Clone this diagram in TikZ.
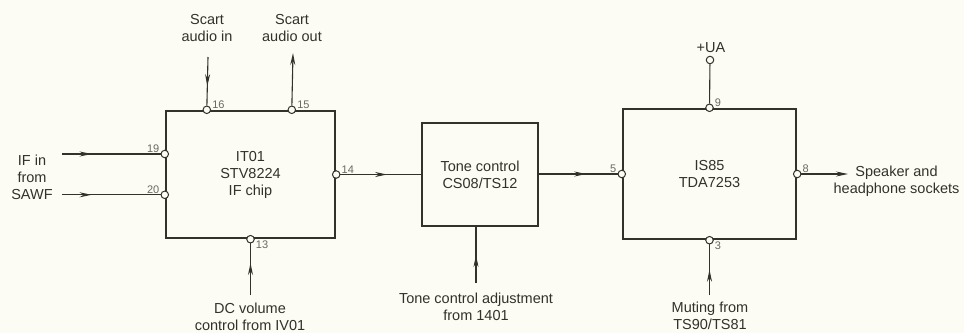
\documentclass[tikz,border=0pt]{standalone}
\usepackage{fontspec}
\setmainfont{Liberation Sans}
\usetikzlibrary{arrows.meta,decorations.markings}

\definecolor{paper}{RGB}{252,251,244}
\definecolor{ink}{RGB}{50,50,42}
\definecolor{pinink}{RGB}{105,105,95}

\begin{document}
\begin{tikzpicture}[x=1pt, y=-1pt, >={Stealth[length=12pt,width=5pt]}, font=\fontsize{14.5}{17}\selectfont]

% Styles
\tikzstyle{chip} = [draw=ink, line width=2.4pt, rectangle, inner sep=0pt, align=center, text=ink]
\tikzstyle{pin} = [draw=ink, fill=paper, circle, line width=1pt, minimum size=7.5pt, inner sep=0pt]
\tikzstyle{pinno} = [font=\fontsize{11}{12}\selectfont, text=pinink, inner sep=1pt]
\tikzstyle{sig} = [draw=ink, line width=1.1pt]
\tikzstyle{lbl} = [align=center, text=ink, inner sep=0pt]
\tikzstyle{midarrow} = [postaction={decorate}, decoration={markings, mark=at position #1 with {\arrow{>}}}]

\fill[paper] (0,0) rectangle (964,333);
\useasboundingbox (0,0) rectangle (964,333);

% Blocks
\node[chip, minimum width=169pt, minimum height=127pt] (it01) at (250.5,174.5) {IT01\\STV8224\\IF chip};
\node[chip, minimum width=116pt, minimum height=103pt] (tone) at (480,174.5) {Tone control\\CS08/TS12};
\node[chip, minimum width=173pt, minimum height=130pt] (is85) at (709.5,174) {IS85\\TDA7253};

% Pins
\node[pin] (p16) at ([xshift=42pt]it01.north west) {};
\node[pin] (p15) at ([xshift=127pt]it01.north west) {};
\node[pin] (p19) at ([yshift=20.5pt]it01.west) {};
\node[pin] (p20) at ([yshift=-85pt]it01.north west) {};
\node[pin] (p13) at (it01.south) {};
\node[pin] (p14) at (it01.east) {};
\node[pin] (p9) at (is85.north) {};
\node[pin] (p5) at (is85.west) {};
\node[pin] (p8) at (is85.east) {};
\node[pin] (p3) at (is85.south) {};
\node[pin] (pua) at (710,60) {};

% Pin numbers
\node[pinno, above right] at (p16.east) {16};
\node[pinno, above right] at (p15.east) {15};
\node[pinno, above left] at (p19.west) {19};
\node[pinno, above left] at (p20.west) {20};
\node[pinno, below right] at (p13.east) {13};
\node[pinno, above right] at (p14.east) {14};
\node[pinno, above right] at (p9.east) {9};
\node[pinno, above left] at (p5.west) {5};
\node[pinno, above right] at (p8.east) {8};
\node[pinno, below right] at (p3.east) {3};

% Labels
\node[lbl] (scin) at (207,28.5) {Scart\\audio in};
\node[lbl] (scout) at (292,28.5) {Scart\\audio out};
\node[lbl] (ifin) at (32,177) {IF in\\from\\SAWF};
\node[lbl] (dcvol) at (250,316.5) {DC volume\\control from IV01};
\node[lbl] (toneadj) at (476,306.5) {Tone control adjustment\\from 1401};
\node[lbl] (ua) at (711,48) {+UA};
\node[lbl] (spk) at (896.5,181.5) {Speaker and\\headphone sockets};
\node[lbl] (mute) at (710,316) {Muting from\\TS90/TS81};

% Free ends
\coordinate (scin-end) at (208,57);
\coordinate (scout-end) at (293,53);
\coordinate (if1-end) at (62,0 |- p19);
\coordinate (if2-end) at (62,0 |- p20);
\coordinate (dc-end) at (p13 |- 0,295);
\coordinate (adj-end) at (476,283);
\coordinate (spk-end) at (848,0 |- p8);
\coordinate (mute-end) at (p3 |- 0,295);

% Connections
\draw[sig, midarrow=0.6] (scin-end) -- (p16);
\draw[sig, ->] (p15) -- (scout-end);
\draw[sig, midarrow=0.3] (if1-end) -- (p19);
\draw[sig, midarrow=0.3] (if2-end) -- (p20);
\draw[sig, midarrow=0.62] (dc-end) -- (p13);
\draw[sig, midarrow=0.58] (p14) -- (p14 -| tone.west);
\draw[sig, midarrow=0.6] (tone.east |- p5) -- (p5);
\draw[sig, midarrow=0.5] (adj-end) -- (adj-end |- tone.south);
\draw[sig] (pua) -- (p9);
\draw[sig, ->] (p8) -- (spk-end);
\draw[sig, midarrow=0.5] (mute-end) -- (p3);

\end{tikzpicture}
\end{document}
